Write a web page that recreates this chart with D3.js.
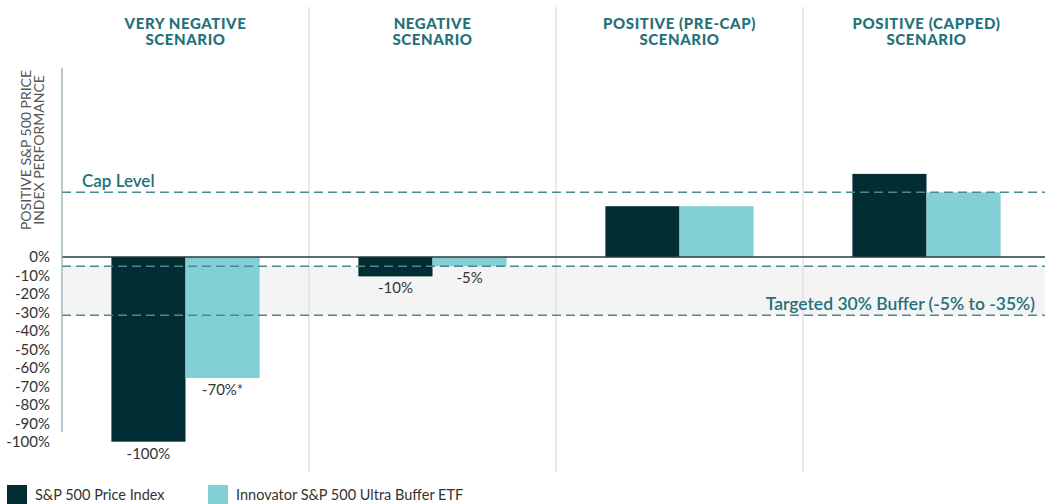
<!DOCTYPE html>
<html>
<head>
<meta charset="utf-8">
<script src="https://cdn.jsdelivr.net/npm/d3@7"></script>
<style>
	body { margin: 0; background: #fff; }
	svg { display: block; font-family: Lato, 'Open Sans', sans-serif; }
</style>
</head>
<body>
<svg id="chart" width="1045" height="504"></svg>
<script>
// data
const scenarios = ['VERY NEGATIVE|SCENARIO', 'NEGATIVE|SCENARIO', 'POSITIVE (PRE-CAP)|SCENARIO', 'POSITIVE (CAPPED)|SCENARIO'];
const series = ['S&P 500 Price Index', 'Innovator S&P 500 Ultra Buffer ETF'];
const spxValues = [-100, -10.5, 27.5, 45];
const etfValues = [-65.5, -5, 27.5, 35];
const spxLabels = ['-100%', '-10%', '', ''];
const etfLabels = ['-70%*', '-5%', '', ''];
const tickValues = [0, -10, -20, -30, -40, -50, -60, -70, -80, -90, -100];
const capLevel = 35;
const bufferTop = -5;
const bufferBottom = -31.5;

const colors = ['#022d33', '#82cfd6'];
const teal = '#23707a';
const dash = '#4a8a8f';

const width = 1045;
const margin = { left: 62 };
const svg = d3.select('#chart');

const x0 = d3.scaleBand().domain(scenarios).range([margin.left, margin.left + 247 * 4]);
const x1 = d3.scaleBand().domain(series).range([x0.bandwidth() * 0.2, x0.bandwidth() * 0.8]);
const y = d3.scaleLinear().domain([0, -100]).range([257, 441.7]);

const data = scenarios.map((s, i) => ({
	scenario: s,
	vals: [
		{ key: series[0], v: spxValues[i], label: spxLabels[i] },
		{ key: series[1], v: etfValues[i], label: etfLabels[i] },
	],
}));

// buffer band
svg.append('rect')
	.attr('x', margin.left)
	.attr('y', y(bufferTop))
	.attr('width', width - margin.left)
	.attr('height', y(bufferBottom) - y(bufferTop))
	.attr('fill', '#f4f4f4');

// separators
svg.selectAll('line.sep')
	.data(scenarios.slice(1))
	.join('line')
	.attr('class', 'sep')
	.attr('x1', d => x0(d))
	.attr('x2', d => x0(d))
	.attr('y1', 7)
	.attr('y2', 472)
	.attr('stroke', '#e2e2e2')
	.attr('stroke-width', 1.5);

// headers
const head = svg.selectAll('text.head')
	.data(scenarios)
	.join('text')
	.attr('class', 'head')
	.attr('x', d => x0(d) + x0.bandwidth() / 2)
	.attr('text-anchor', 'middle')
	.attr('fill', teal)
	.attr('font-size', 15)
	.attr('letter-spacing', 0.6)
	.attr('font-weight', 900);
head.selectAll('tspan')
	.data(d => d.split('|'))
	.join('tspan')
	.attr('x', function () { return d3.select(this.parentNode).attr('x'); })
	.attr('y', (d, i) => 28.5 + i * 16)
	.text(d => d);

// bars
const groups = svg.selectAll('g.grp')
	.data(data)
	.join('g')
	.attr('class', 'grp')
	.attr('transform', d => `translate(${x0(d.scenario)},0)`);

groups.selectAll('rect')
	.data(d => d.vals)
	.join('rect')
	.attr('x', d => x1(d.key))
	.attr('width', x1.bandwidth())
	.attr('y', d => Math.min(y(d.v), y(0)))
	.attr('height', d => Math.abs(y(d.v) - y(0)))
	.attr('fill', (d, i) => colors[i]);

groups.selectAll('text')
	.data(d => d.vals.filter(v => v.label))
	.join('text')
	.attr('x', d => x1(d.key) + x1.bandwidth() / 2)
	.attr('y', d => y(d.v) + 17)
	.attr('text-anchor', 'middle')
	.attr('font-size', 15)
	.attr('fill', '#333')
	.text(d => d.label);

// reference lines
const refLines = [capLevel, bufferTop, bufferBottom];
svg.selectAll('line.ref')
	.data(refLines)
	.join('line')
	.attr('class', 'ref')
	.attr('x1', margin.left)
	.attr('x2', width)
	.attr('y1', d => y(d))
	.attr('y2', d => y(d))
	.attr('stroke', dash)
	.attr('stroke-width', 1.5)
	.attr('stroke-dasharray', '9,5');

// zero line
svg.append('line')
	.attr('x1', margin.left)
	.attr('x2', width)
	.attr('y1', y(0))
	.attr('y2', y(0))
	.attr('stroke', '#2a3b3e')
	.attr('stroke-width', 1.5);

// y axis
svg.append('line')
	.attr('x1', margin.left)
	.attr('x2', margin.left)
	.attr('y1', y(102.3))
	.attr('y2', y(-94.7))
	.attr('stroke', '#8aa6a9')
	.attr('stroke-width', 1.2);

const yAxis = d3.axisLeft(y).tickValues(tickValues).tickSize(0).tickPadding(0).tickFormat(d => d + '%');
svg.append('g')
	.attr('transform', 'translate(50,0)')
	.call(yAxis)
	.call(g => g.select('.domain').remove())
	.call(g => g.selectAll('text')
		.attr('font-family', 'Lato, sans-serif')
		.attr('font-size', 15)
		.attr('fill', '#333'));

// y title
const yt = svg.append('text')
	.attr('transform', 'translate(0,150) rotate(-90)')
	.attr('text-anchor', 'middle')
	.attr('fill', '#555')
	.attr('font-size', 14);
['POSITIVE S&P 500 PRICE', 'INDEX PERFORMANCE'].forEach((t, i) => {
	yt.append('tspan').attr('x', 0).attr('y', 31 + i * 13).text(t);
});

// annotations
svg.append('text')
	.attr('x', 82)
	.attr('y', y(capLevel) - 5)
	.attr('fill', teal)
	.attr('font-size', 17)
	.attr('font-weight', 600)
	.text('Cap Level');

svg.append('text')
	.attr('x', 1035)
	.attr('y', y(bufferBottom) - 5)
	.attr('text-anchor', 'end')
	.attr('fill', teal)
	.attr('font-size', 17.5)
	.attr('font-weight', 600)
	.text('Targeted 30% Buffer (-5% to -35%)');

// legend
const legend = svg.selectAll('g.leg')
	.data(series)
	.join('g')
	.attr('class', 'leg')
	.attr('transform', (d, i) => `translate(${[7, 208][i]},485)`);
legend.append('rect')
	.attr('width', 20)
	.attr('height', 19)
	.attr('fill', (d, i) => colors[i]);
legend.append('text')
	.attr('x', 28)
	.attr('y', 15)
	.attr('font-size', 14.5)
	.attr('fill', '#333')
	.text(d => d);
</script>
</body>
</html>
